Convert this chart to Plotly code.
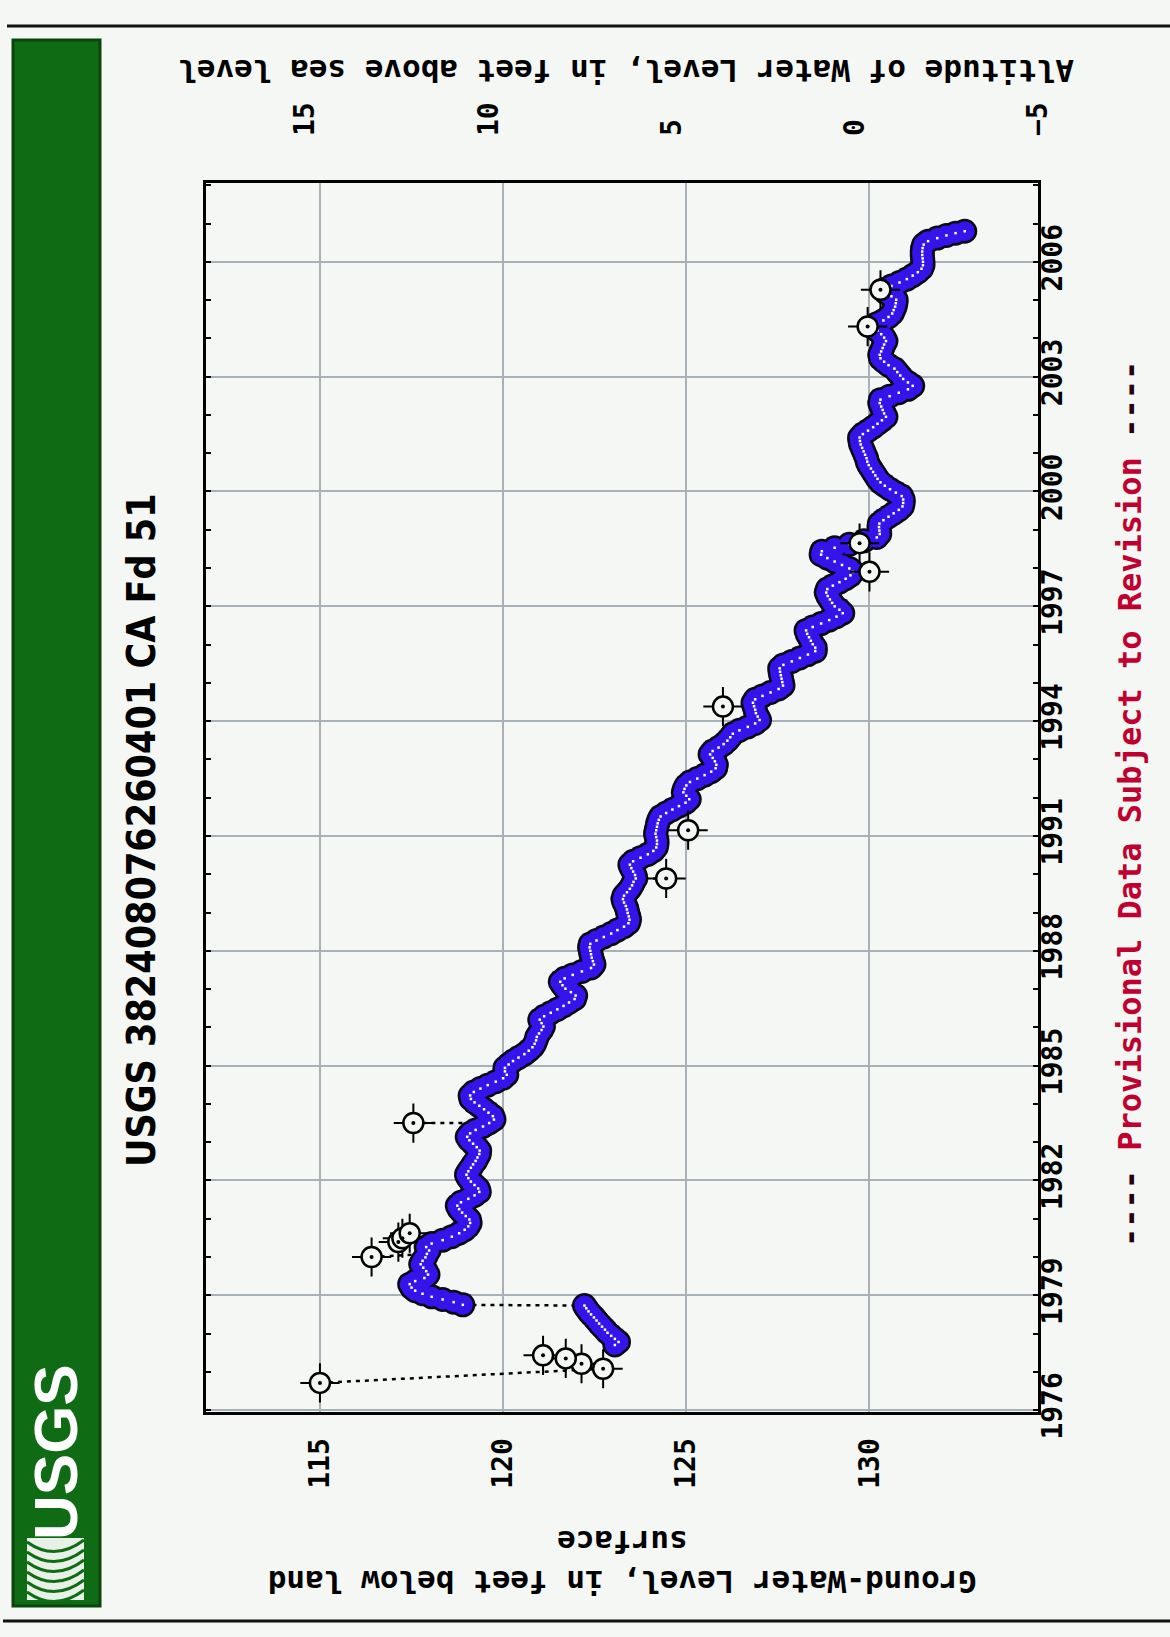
import plotly.graph_objects as go

# ---------------- data ----------------
# continuous-looking band of measurements: year, depth below land surface (ft)
band_year = [
    1977.70, 1977.78, 1977.86, 1977.94, 1978.02, 1978.10, 1978.18, 1978.26, 1978.34, 1978.42,
    1978.50, 1978.58, 1978.66, 1978.73,
    1978.75, 1978.82, 1978.89, 1978.96, 1979.04, 1979.12, 1979.20, 1979.29, 1979.37, 1979.45,
    1979.54, 1979.63, 1979.72, 1979.81, 1979.90, 1979.99, 1980.08, 1980.17, 1980.26, 1980.35,
    1980.44, 1980.53, 1980.62, 1980.71, 1980.80, 1980.89, 1980.98, 1981.07, 1981.16, 1981.25,
    1981.34, 1981.43, 1981.52, 1981.61, 1981.70, 1981.79, 1981.88, 1981.97, 1982.06, 1982.15,
    1982.24, 1982.33, 1982.42, 1982.51, 1982.60, 1982.69, 1982.78, 1982.87, 1982.96, 1983.05,
    1983.14, 1983.23, 1983.32, 1983.41, 1983.50, 1983.59, 1983.68, 1983.77, 1983.86, 1983.95,
    1984.04, 1984.13, 1984.22, 1984.31, 1984.40, 1984.49, 1984.58, 1984.67, 1984.76, 1984.85,
    1984.94, 1985.03, 1985.12, 1985.21, 1985.30, 1985.39, 1985.48, 1985.57, 1985.66, 1985.75,
    1985.84, 1985.93, 1986.02, 1986.11, 1986.20, 1986.29, 1986.38, 1986.47, 1986.56, 1986.65,
    1986.74, 1986.83, 1986.92, 1987.01, 1987.10, 1987.19, 1987.28, 1987.37, 1987.46, 1987.55,
    1987.64, 1987.73, 1987.82, 1987.91, 1988.00, 1988.09, 1988.18, 1988.27, 1988.36, 1988.45,
    1988.54, 1988.63, 1988.72, 1988.81, 1988.90, 1988.99, 1989.08, 1989.17, 1989.26, 1989.35,
    1989.44, 1989.53, 1989.62, 1989.71, 1989.80, 1989.89, 1989.98, 1990.07, 1990.16, 1990.25,
    1990.34, 1990.43, 1990.52, 1990.61, 1990.70, 1990.79, 1990.88, 1990.97, 1991.06, 1991.15,
    1991.24, 1991.33, 1991.42, 1991.51, 1991.60, 1991.69, 1991.78, 1991.87, 1991.96, 1992.05,
    1992.14, 1992.23, 1992.32, 1992.41, 1992.50, 1992.59, 1992.68, 1992.77, 1992.86, 1992.95,
    1993.04, 1993.13, 1993.22, 1993.31, 1993.40, 1993.49, 1993.58, 1993.67, 1993.76, 1993.85,
    1993.94, 1994.03, 1994.12, 1994.21, 1994.30, 1994.39, 1994.48, 1994.57, 1994.66, 1994.75,
    1994.84, 1994.93, 1995.02, 1995.11, 1995.20, 1995.29, 1995.38, 1995.47, 1995.56, 1995.65,
    1995.74, 1995.83, 1995.92, 1996.01, 1996.10, 1996.19, 1996.28, 1996.37, 1996.46, 1996.55,
    1996.64, 1996.73, 1996.82, 1996.91, 1997.00, 1997.09, 1997.18, 1997.27, 1997.36, 1997.45,
    1997.54, 1997.63, 1997.72, 1997.81, 1997.90, 1997.99, 1998.08, 1998.17, 1998.26, 1998.35,
    1998.44, 1998.53, 1998.62, 1998.71, 1998.80, 1998.89, 1998.98, 1999.07, 1999.16, 1999.25,
    1999.34, 1999.43, 1999.52, 1999.61, 1999.70, 1999.79, 1999.88, 1999.97, 2000.06, 2000.15,
    2000.24, 2000.33, 2000.42, 2000.51, 2000.60, 2000.69, 2000.78, 2000.87, 2000.96, 2001.05,
    2001.14, 2001.23, 2001.32, 2001.41, 2001.50, 2001.59, 2001.68, 2001.77, 2001.86, 2001.95,
    2002.04, 2002.13, 2002.22, 2002.31, 2002.40, 2002.49, 2002.58, 2002.67, 2002.76, 2002.85,
    2002.94, 2003.03, 2003.12, 2003.21, 2003.30, 2003.39, 2003.48, 2003.57, 2003.66, 2003.75,
    2003.84, 2003.93, 2004.02, 2004.11, 2004.20, 2004.29, 2004.38, 2004.47, 2004.56, 2004.65,
    2004.74, 2004.83, 2004.92, 2005.01, 2005.10, 2005.19, 2005.28, 2005.37, 2005.46, 2005.55,
    2005.64, 2005.73, 2005.82, 2005.91, 2006.00, 2006.09, 2006.18, 2006.27, 2006.36, 2006.45,
    2006.54, 2006.62, 2006.69, 2006.75, 2006.80,
]
band_depth = [
    123.05, 123.15, 123.05, 122.95, 122.85, 122.78, 122.70, 122.62, 122.55, 122.48,
    122.40, 122.33, 122.27, 122.22,
    118.90, 118.65, 118.35, 118.05, 117.80, 117.60, 117.50, 117.45, 117.60, 117.85,
    117.95, 117.90, 117.82, 117.75, 117.80, 117.88, 117.92, 117.98, 117.90, 118.05,
    118.35, 118.60, 118.80, 118.95, 119.05, 119.10, 119.08, 118.98, 118.88, 118.80,
    118.75, 118.85, 119.05, 119.22, 119.35, 119.32, 119.22, 119.12, 119.05, 119.00,
    119.05, 119.12, 119.18, 119.25, 119.30, 119.35, 119.36, 119.28, 119.18, 119.08,
    119.02, 119.10, 119.25, 119.45, 119.62, 119.75, 119.72, 119.60, 119.48, 119.35,
    119.22, 119.12, 119.10, 119.20, 119.38, 119.58, 119.80, 120.00, 120.10, 120.05,
    120.05, 120.15, 120.27, 120.42, 120.58, 120.70, 120.80, 120.86, 120.90, 120.92,
    120.98, 121.05, 121.10, 121.05, 121.00, 121.12, 121.30, 121.48, 121.65, 121.80,
    121.95, 121.98, 121.85, 121.70, 121.62, 121.56, 121.68, 121.90, 122.15, 122.40,
    122.48, 122.45, 122.42, 122.40, 122.38, 122.36, 122.38, 122.55, 122.75, 122.95,
    123.12, 123.30, 123.42, 123.45, 123.43, 123.40, 123.38, 123.35, 123.30, 123.27,
    123.30, 123.38, 123.46, 123.52, 123.56, 123.62, 123.60, 123.55, 123.50, 123.46,
    123.55, 123.75, 123.95, 124.10, 124.18, 124.20, 124.20, 124.18, 124.16, 124.18,
    124.20, 124.22, 124.25, 124.30, 124.45, 124.62, 124.80, 124.98, 125.08, 125.00,
    124.92, 124.95, 125.00, 125.10, 125.30, 125.50, 125.68, 125.80, 125.82, 125.78,
    125.72, 125.65, 125.72, 125.88, 126.02, 126.12, 126.20, 126.27, 126.45, 126.68,
    126.88, 127.00, 126.95, 126.90, 126.88, 126.85, 126.82, 126.88, 127.08, 127.30,
    127.52, 127.64, 127.62, 127.60, 127.58, 127.56, 127.55, 127.65, 127.88, 128.10,
    128.32, 128.52, 128.52, 128.45, 128.40, 128.35, 128.30, 128.27, 128.45, 128.68,
    128.90, 129.10, 129.27, 129.18, 129.05, 128.98, 128.92, 128.86, 128.82, 128.85,
    129.00, 129.18, 129.35, 129.48, 129.55, 129.45, 129.25, 129.05, 128.85, 128.68,
    128.70, 129.05, 129.45, 129.85, 130.20, 130.28, 130.27, 130.26, 130.27, 130.38,
    130.52, 130.66, 130.80, 130.90, 130.92, 130.92, 130.88, 130.72, 130.56, 130.42,
    130.30, 130.22, 130.16, 130.10, 130.04, 129.98, 129.94, 129.92, 129.88, 129.84,
    129.80, 129.76, 129.74, 129.73, 129.82, 129.96, 130.10, 130.22, 130.34, 130.45,
    130.40, 130.36, 130.32, 130.28, 130.30, 130.55, 130.80, 131.05, 131.18, 131.05,
    130.92, 130.84, 130.76, 130.68, 130.52, 130.40, 130.30, 130.28, 130.32, 130.36,
    130.40, 130.45, 130.40, 130.32, 130.22, 130.10, 130.20, 130.38, 130.52, 130.62,
    130.66, 130.70, 130.72, 130.73, 130.60, 130.45, 130.40, 130.60, 130.82, 131.02,
    131.18, 131.32, 131.42, 131.46, 131.46, 131.45, 131.44, 131.44, 131.45, 131.48,
    131.60, 131.85, 132.10, 132.35, 132.60,
]

# separate (isolated) measurements, drawn as open rings
iso_year = [1976.71, 1977.08, 1977.21, 1977.35, 1977.43, 1980.00, 1980.39, 1980.49, 1980.62,
            1983.50, 1989.89, 1991.15, 1994.38, 1997.90, 1998.65, 2004.31, 2005.27]
iso_depth = [115.00, 122.73, 122.14, 121.71, 121.09, 116.41, 117.14, 117.25, 117.45,
             117.55, 124.45, 125.05, 126.00, 130.00, 129.73, 129.95, 130.30]

# dotted connectors across gaps: (year0, depth0) -> (year1, depth1)
gap_year0 = [1976.71, 1978.73, 1980.00, 1983.50, 1989.89]
gap_depth0 = [115.00, 122.22, 116.41, 117.55, 124.45]
gap_year1 = [1977.08, 1978.75, 1980.08, 1983.50, 1989.89]
gap_depth1 = [122.73, 118.90, 117.92, 119.62, 123.62]

depth_ticks = [115, 120, 125, 130]
alt_ticks = [15, 10, 5, 0, -5]
LAND_ALT = 129.6          # land-surface altitude, ft above sea level
DEPTH_RANGE = [111.89, 134.6]
YEAR_RANGE = [1975.95, 2008.06]

TITLE = "USGS 382408076260401 CA Fd 51"
LEFT_TITLE = "Ground-Water Level, in feet below land<br>surface"
RIGHT_TITLE = "Altitude of Water Level, in feet above sea level"
PROV = "Provisional Data Subject to Revision"

# ---------------- layout helpers ----------------
W, H = 1170, 1637
L, R, T, B = 206, 1038, 183, 1412
BG = "#f4f7f3"
BLUE = "#3414ea"


def px(x):
    return (x - L) / (R - L)


def py(y):
    return (B - y) / (B - T)


mono = "DejaVu Sans Mono, Liberation Mono, monospace"

fig = go.Figure()

# gap connectors
cx, cy = [], []
for a, b, c, d in zip(gap_depth0, gap_year0, gap_depth1, gap_year1):
    cx += [a, c, None]
    cy += [b, d, None]
fig.add_trace(go.Scatter(x=cx, y=cy, mode="lines", hoverinfo="skip",
                         line=dict(color="black", width=2.5, dash="4px,5px")))

# band: black outline layer, blue layer, white speckles
fig.add_trace(go.Scatter(x=band_depth, y=band_year, mode="markers",
                         marker=dict(symbol="circle", size=25, color="#0a0a14",
                                     line=dict(width=0))))
fig.add_trace(go.Scatter(x=band_depth, y=band_year, mode="markers",
                         marker=dict(symbol="circle", size=20, color=BLUE,
                                     line=dict(width=0))))
fig.add_trace(go.Scatter(x=band_depth, y=band_year, mode="markers", hoverinfo="skip",
                         marker=dict(symbol="square", size=2.5, color="white",
                                     line=dict(width=0))))
# isolated rings: tick marks, ring, centre dot
fig.add_trace(go.Scatter(x=iso_depth, y=iso_year, mode="markers", hoverinfo="skip",
                         marker=dict(symbol="cross-thin-open", size=28, color="black",
                                     line=dict(color="black", width=2))))
fig.add_trace(go.Scatter(x=iso_depth, y=iso_year, mode="markers",
                         marker=dict(symbol="circle", size=20, color=BG,
                                     line=dict(color="black", width=2.5))))
fig.add_trace(go.Scatter(x=iso_depth, y=iso_year, mode="markers", hoverinfo="skip",
                         marker=dict(symbol="circle", size=4, color="black",
                                     line=dict(width=0))))
# trace on the altitude axis so it is drawn
fig.add_trace(go.Scatter(x=[LAND_ALT - d for d in iso_depth[:1]], y=iso_year[:1],
                         xaxis="x2", mode="markers", hoverinfo="skip",
                         marker=dict(opacity=0)))

tickfont = dict(family=mono, size=28, color="black", weight="bold")

fig.update_layout(
    width=W, height=H,
    margin=dict(l=L, r=W - R, t=T, b=H - B),
    paper_bgcolor=BG, plot_bgcolor=BG,
    showlegend=False,
    xaxis=dict(range=DEPTH_RANGE, tickvals=depth_ticks, tickangle=-90,
               showgrid=True, gridcolor="#a9b1b8", gridwidth=1.5, zeroline=False,
               showline=True, linecolor="black", linewidth=3, mirror=True,
               ticks="", tickfont=tickfont, ticklabelstandoff=12),
    xaxis2=dict(overlaying="x", side="top", range=[LAND_ALT - DEPTH_RANGE[0], LAND_ALT - DEPTH_RANGE[1]],
                tickvals=alt_ticks, tickangle=-90, showgrid=False, zeroline=False,
                showline=False, ticks="", tickfont=tickfont, ticklabelstandoff=46),
    yaxis=dict(range=YEAR_RANGE, side="right", tick0=1976, dtick=3, tickangle=-90,
               showgrid=True, gridcolor="#a9b1b8", gridwidth=1.5, zeroline=False,
               showline=True, linecolor="black", linewidth=3, mirror="ticks",
               ticks="inside", ticklen=5, tickwidth=2, tickcolor="black",
               minor=dict(dtick=1, tick0=1976, ticks="inside", ticklen=5, tickwidth=2,
                          tickcolor="black", showgrid=False),
               tickfont=tickfont, ticklabelstandoff=-13),
)

shapes = []
# horizontal rules at top and bottom of the page
shapes.append(dict(type="line", xref="paper", yref="paper", x0=px(7), x1=px(1170),
                   y0=py(26), y1=py(26), line=dict(color="#111", width=3)))
shapes.append(dict(type="line", xref="paper", yref="paper", x0=px(3), x1=px(1170),
                   y0=py(1621), y1=py(1621), line=dict(color="#111", width=3)))
# green banner
shapes.append(dict(type="rect", xref="paper", yref="paper", x0=px(13), x1=px(100),
                   y0=py(1606), y1=py(40), fillcolor="#0f6c14",
                   line=dict(color="#0a460c", width=3), layer="below"))
# logo emblem: white square with green waves
shapes.append(dict(type="rect", xref="paper", yref="paper", x0=px(27), x1=px(84),
                   y0=py(1600), y1=py(1538), fillcolor="#e8f0e8",
                   line=dict(width=0)))
for k in range(6):
    off = k * 10
    path = "M {},{} Q {},{} {},{}".format(
        px(27), py(1542 + off), px(55), py(1562 + off), px(84), py(1540 + off))
    shapes.append(dict(type="path", xref="paper", yref="paper", path=path,
                       line=dict(color="#0f6c14", width=3)))
fig.update_layout(shapes=shapes)

ann = []
common = dict(xref="paper", yref="paper", showarrow=False, xanchor="center", yanchor="middle")
ann.append(dict(text="<b>USGS</b>", x=px(55), y=py(1452), textangle=-90,
                font=dict(family="Liberation Sans, Arial", size=62, color="white"), **common))
ann.append(dict(text=TITLE, x=px(142), y=py(830), textangle=-90,
                font=dict(family="DejaVu Sans Condensed, Liberation Sans, Arial", size=39,
                          color="black", weight="bold"), **common))
ann.append(dict(text=LEFT_TITLE, x=px(623), y=py(1562), textangle=180,
                font=dict(family=mono, size=31, color="black", weight="bold"), **common))
ann.append(dict(text=RIGHT_TITLE, x=px(626), y=py(71), textangle=180,
                font=dict(family=mono, size=31, color="black", weight="bold"), **common))
ann.append(dict(text='<span style="color:#2a0010">----</span> ' + PROV +
                     ' <span style="color:#2a0010">----</span>',
                x=px(1130), y=py(804), textangle=-90,
                font=dict(family=mono, size=32, color="#bf0030", weight="bold"), **common))
fig.update_layout(annotations=ann)

fig.write_html("out.html")
